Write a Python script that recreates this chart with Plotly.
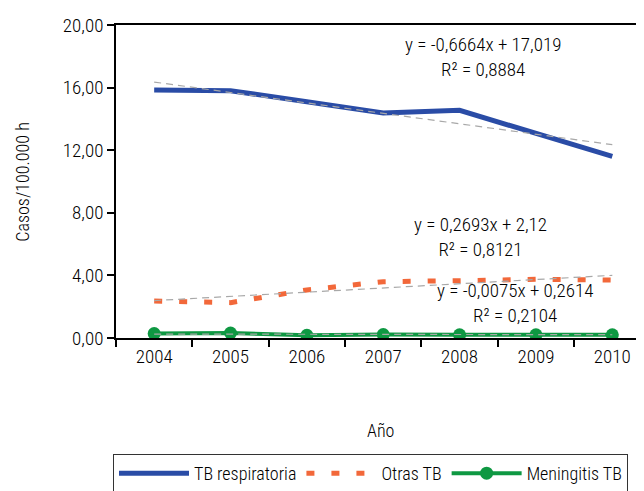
import plotly.graph_objects as go

years = [2004, 2005, 2006, 2007, 2008, 2009, 2010]
tb_resp = [15.85, 15.80, 15.10, 14.38, 14.55, 13.10, 11.60]
otras_tb = [2.36, 2.26, 3.07, 3.60, 3.66, 3.75, 3.70]
meningitis = [0.28, 0.32, 0.17, 0.22, 0.20, 0.20, 0.20]

# trend-line coefficients as printed on the chart (x = 1..7)
trend_resp = (-0.6664, 17.019)
trend_otras = (0.2693, 2.12)
trend_men = (-0.0075, 0.2614)
eq_texts = ["y = -0,6664x + 17,019<br>R² = 0,8884",
            "y = 0,2693x + 2,12<br>R² = 0,8121",
            "y = -0,0075x + 0,2614<br>R² = 0,2104"]
yticks = [0, 4, 8, 12, 16, 20]

FONT = "Roboto Condensed, Roboto, sans-serif"
BLUE = "#2A4CA6"
ORANGE = "#F2683A"
GREEN = "#0E9842"
GRAY = "#A8A8A8"

def f(size):
    return dict(family=FONT, size=size, color="#000", weight=300)

fig = go.Figure()

def trend(coef):
    m, b = coef
    xs = list(range(1, len(years) + 1))
    return [m * x + b for x in xs]

fig.add_trace(go.Scatter(x=years, y=tb_resp, mode="lines", name="TB respiratoria",
                         line=dict(color=BLUE, width=5)))
fig.add_trace(go.Scatter(x=years, y=otras_tb, mode="lines", name="Otras TB",
                         line=dict(color=ORANGE, width=5, dash="8px,17px")))
fig.add_trace(go.Scatter(x=years, y=meningitis, mode="lines+markers", name="Meningitis TB",
                         line=dict(color=GREEN, width=4),
                         marker=dict(color=GREEN, size=13)))
for coef in (trend_resp, trend_otras, trend_men):
    fig.add_trace(go.Scatter(x=years, y=trend(coef), mode="lines", showlegend=False,
                             line=dict(color=GRAY, width=1.2, dash="7px,5px"),
                             hoverinfo="skip"))

ann_pos = [(2008.3, 16.3), (2008.27, 4.82), (2008.72, 0.6)]
for (ax, ay), t in zip(ann_pos, eq_texts):
    fig.add_annotation(x=ax, y=ay, text=t, showarrow=False, xanchor="center",
                       yanchor="bottom", align="center", font=f(19))

fig.add_annotation(xref="paper", yref="paper", x=-0.175, y=0.5, text="Casos/100.000 h",
                   textangle=-90, showarrow=False, xanchor="center", yanchor="middle",
                   font=f(18))
fig.add_annotation(xref="paper", yref="paper", x=0.494, y=-0.294, text="Año",
                   showarrow=False, xanchor="center", yanchor="middle", font=f(18))

fig.update_layout(
    width=644, height=491,
    margin=dict(l=108, r=0, t=17, b=161, autoexpand=False),
    paper_bgcolor="white", plot_bgcolor="white",
    separators=",.",
    font=f(18),
    showlegend=True,
    legend=dict(orientation="h", xref="container", yref="container",
                x=105 / 644, y=(491 - 446) / 491, xanchor="left", yanchor="top",
                bordercolor="#333", borderwidth=1, itemwidth=70,
                font=f(18), traceorder="normal"),
    xaxis=dict(range=[2003.5, 2010.52], tickvals=years, ticktext=[str(y) for y in years],
               ticks="", showgrid=False, zeroline=False, showline=True, linecolor="black",
               linewidth=1.5, mirror=True, automargin=False,
               minor=dict(ticks="outside", tick0=2003.5, dtick=1, ticklen=7,
                          tickcolor="black", tickwidth=1.5, showgrid=False),
               tickfont=f(19)),
    yaxis=dict(range=[0, 20], tickvals=yticks, tickformat=".2f", ticks="outside",
               ticklen=7, tickwidth=1.5, tickcolor="black", showgrid=False, zeroline=False,
               showline=True, linecolor="black", linewidth=1.5, automargin=False,
               tickfont=f(19)),
)

fig.write_html("out.html")
